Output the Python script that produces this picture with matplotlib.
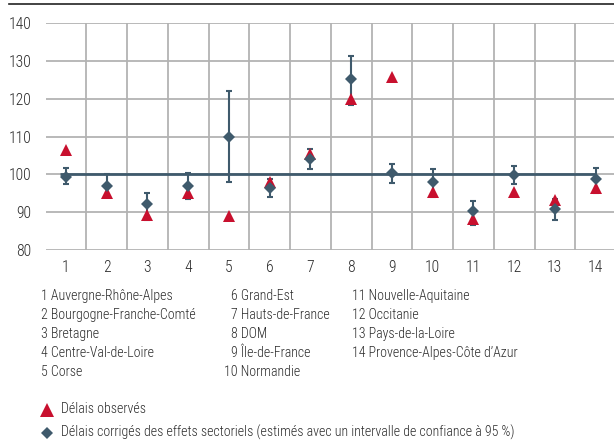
import matplotlib
matplotlib.use("Agg")
import matplotlib.pyplot as plt
from matplotlib.lines import Line2D
from matplotlib import font_manager

# ---- data ----
categories = list(range(1, 15))
region_names = ["Auvergne-Rhône-Alpes", "Bourgogne-Franche-Comté", "Bretagne",
                "Centre-Val-de-Loire", "Corse", "Grand-Est", "Hauts-de-France",
                "DOM", "Île-de-France", "Normandie", "Nouvelle-Aquitaine",
                "Occitanie", "Pays-de-la-Loire", "Provence-Alpes-Côte d’Azur"]
observed = [106.5, 95.2, 89.3, 95.2, 89.0, 98.1, 105.4, 119.9, 125.7, 95.4, 88.3, 95.3, 93.2, 96.5]
corrected = [99.4, 97.0, 92.1, 96.9, 109.9, 96.5, 104.1, 125.3, 100.3, 98.1, 90.3, 99.9, 90.9, 98.8]
ci_low = [97.4, 94.1, 87.9, 93.5, 98.1, 94.1, 101.4, 118.4, 97.8, 93.9, 86.6, 97.4, 87.9, 95.2]
ci_high = [101.6, 100.1, 95.2, 100.3, 122.1, 98.7, 106.7, 131.4, 102.8, 101.4, 92.9, 102.3, 93.5, 101.6]
y_ticks = [80, 90, 100, 110, 120, 130, 140]
reference_level = 100
legend_labels = ["Délais observés",
                 "Délais corrigés des effets sectoriels (estimés avec un intervalle de confiance à 95 %)"]

# ---- style ----
avail = {(f.name, f.weight, f.style) for f in font_manager.fontManager.ttflist}
prefs = ["Roboto Condensed", "Fira Sans Extra Condensed", "Asap Condensed",
         "PT Sans Narrow", "Liberation Sans Narrow"]
chosen = [p for p in prefs if any(n == p and s == 'normal' for n, w, s in avail)]
plt.rcParams['font.family'] = chosen[:1] + ['DejaVu Sans']
plt.rcParams['font.weight'] = 300

RED = "#c8102e"
BLUE = "#3f5a6c"
GRID = "#b3b3b3"
TXT = "#2b2b2b"

W, H = 614, 442
fig = plt.figure(figsize=(W / 100, H / 100), dpi=100)

# fit font size so the long legend line has the reference width (~451 px)
probe = fig.text(0, 0, legend_labels[1], fontsize=12)
fig.canvas.draw()
wpx = probe.get_window_extent(fig.canvas.get_renderer()).width
probe.remove()
fs = 12 * 455 / wpx

left, right = 45.5, 614
top, bottom = 23.3, 250
ax = fig.add_axes([left / W, 1 - bottom / H, (right - left) / W, (bottom - top) / H])

ax.set_xlim(0.5, 0.5 + (right - left) / 40.75)
ax.set_ylim(80, 140)
for s in ax.spines.values():
    s.set_visible(False)

ax.set_yticks(y_ticks)
ax.set_xticks(categories)
ax.set_xticklabels([str(c) for c in categories])
ax.tick_params(length=0, labelsize=fs * 1.12, colors=TXT, pad=7)
ax.tick_params(axis='y', pad=10)

for yv in y_ticks:
    ax.axhline(yv, color=GRID, lw=1.3, zorder=0)
for xv in [c + 0.5 for c in categories[:-1]]:
    ax.axvline(xv, color=GRID, lw=1.3, zorder=0)

ax.plot([0.85, 14.0], [reference_level, reference_level], color=BLUE, lw=2.0, zorder=1,
        solid_capstyle='butt')

yerr = [[c - lo for c, lo in zip(corrected, ci_low)], [hi - c for c, hi in zip(corrected, ci_high)]]
ax.errorbar(categories, corrected, yerr=yerr, fmt='none', ecolor=BLUE, elinewidth=1.5,
            capsize=2.5, capthick=1.5, zorder=2)
ax.plot(categories, observed, linestyle='none', marker='^', ms=8.3, color=RED,
        markeredgewidth=0, zorder=3)
ax.plot(categories, corrected, linestyle='none', marker='D', ms=6.6, color=BLUE,
        markeredgewidth=0, zorder=4)

# top rule
fig.add_artist(Line2D([9 / W, 1], [1 - 4 / H, 1 - 4 / H], color='#222222', lw=1.2))

# region legend
col_x = [41, 231, 352]
row_y = [296, 315, 334, 353, 372]
for i, (c, name) in enumerate(zip(categories, region_names)):
    col = 0 if i < 5 else (1 if i < 10 else 2)
    row = i if i < 5 else (i - 5 if i < 10 else i - 10)
    x = col_x[col]
    if col == 1 and c >= 10:
        x = 224
    fig.text(x / W, 1 - row_y[row] / H, f"{c} {name}", fontsize=fs, color=TXT,
             ha='left', va='center')

# marker legend
fig.add_artist(Line2D([47 / W], [1 - 410 / H], marker='^', ms=10, color=RED,
                      markeredgewidth=0, linestyle='none'))
fig.add_artist(Line2D([47 / W], [1 - 433 / H], marker='D', ms=6.5, color=BLUE,
                      markeredgewidth=0, linestyle='none'))
fig.text(61 / W, 1 - 409 / H, legend_labels[0], fontsize=fs, color=TXT, va='center')
fig.text(61 / W, 1 - 432 / H, legend_labels[1], fontsize=fs, color=TXT, va='center')

fig.savefig("out.png", dpi=100)
